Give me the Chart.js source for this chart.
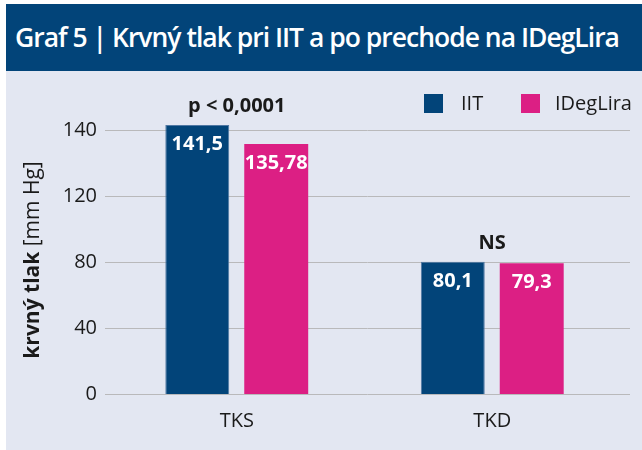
<!DOCTYPE html>
<html>
<head>
<meta charset="utf-8">
<script src="https://cdn.jsdelivr.net/npm/chart.js@4.4.1/dist/chart.umd.min.js"></script>
<style>
  body { margin: 0; background: #fff; }
  #wrap { position: relative; width: 642px; height: 450px; overflow: hidden; }
  #head {
    position: absolute; left: 6px; top: 4px; width: 636px; height: 67px;
    background: #024479; color: #fff;
    font: 600 26.5px "Open Sans", sans-serif; line-height: 66px;
    padding-left: 9px; box-sizing: border-box; white-space: nowrap; letter-spacing: -1px;
  }
  #panel { position: absolute; left: 6px; top: 71px; width: 636px; height: 379px; background: #e3e7f2; }
</style>
</head>
<body>
<div id="wrap">
  <div id="head">Graf 5 | Krvný tlak pri IIT a po prechode na IDegLira</div>
  <div id="panel"><canvas id="chart" width="636" height="379"></canvas></div>
</div>
<script>
const categories = ['TKS', 'TKD'];
const iitValues = [141.5, 80.1];
const idegValues = [135.78, 79.3];
const valueLabels = [['141,5', '80,1'], ['135,78', '79,3']];
const significance = ['p < 0,0001', 'NS'];
const yTicks = [0, 40, 80, 120, 140];
const FONT = '"Open Sans", sans-serif';

// axis in the source is spaced evenly per tick (top step is 20, not 40)
class SegmentScale extends Chart.LinearScale {
    getPixelForValue(value) {
        const n = yTicks.length - 1;
        let i = 0;
        while (i < n - 1 && value > yTicks[i + 1]) i++;
        const f = (i + (value - yTicks[i]) / (yTicks[i + 1] - yTicks[i])) / n;
        return this.getPixelForDecimal(f);
    }
    getValueForPixel(pixel) {
        const d = this.getDecimalForPixel(pixel) * (yTicks.length - 1);
        const i = Math.max(0, Math.min(Math.floor(d), yTicks.length - 2));
        return yTicks[i] + (d - i) * (yTicks[i + 1] - yTicks[i]);
    }
}
SegmentScale.id = 'segment';
SegmentScale.defaults = Chart.LinearScale.defaults;
Chart.register(SegmentScale);

const extras = {
    id: 'extras',
    beforeDatasetsDraw(chart) {
        const { ctx, chartArea, scales } = chart;
        ctx.save();
        ctx.strokeStyle = '#b9b9bb';
        ctx.lineWidth = 1;
        yTicks.forEach(v => {
            const y = Math.round(scales.y.getPixelForValue(v)) + 0.5;
            ctx.beginPath();
            ctx.moveTo(chartArea.left - 4, y);
            ctx.lineTo(chartArea.right + 10, y);
            ctx.stroke();
        });
        ctx.restore();
    },
    afterDatasetsDraw(chart) {
        const { ctx, scales } = chart;
        ctx.save();
        ctx.textAlign = 'center';
        ctx.textBaseline = 'middle';
        // values inside bars
        ctx.fillStyle = '#fff';
        ctx.font = 'bold 20px ' + FONT;
        chart.data.datasets.forEach((ds, di) => {
            chart.getDatasetMeta(di).data.forEach((bar, i) => {
                ctx.fillText(valueLabels[di][i], bar.x, bar.y + 19);
            });
        });
        // significance over each group
        ctx.fillStyle = '#1a1a1a';
        categories.forEach((c, i) => {
            const top = Math.min(...chart.data.datasets.map((ds, di) => chart.getDatasetMeta(di).data[i].y));
            ctx.fillText(significance[i], scales.x.getPixelForValue(i), top - 19);
        });
        // y axis title, mixed weight
        ctx.translate(27, 189);
        ctx.rotate(-Math.PI / 2);
        ctx.textAlign = 'left';
        const part1 = 'krvný tlak';
        const part2 = ' [mm Hg]';
        ctx.font = 'bold 21px ' + FONT;
        const w1 = ctx.measureText(part1).width;
        ctx.font = '21px ' + FONT;
        const w2 = ctx.measureText(part2).width;
        const start = -(w1 + w2) / 2;
        ctx.font = 'bold 21px ' + FONT;
        ctx.fillText(part1, start, 0);
        ctx.font = '21px ' + FONT;
        ctx.fillText(part2, start + w1, 0);
        ctx.restore();
        // legend
        ctx.save();
        ctx.font = '20px ' + FONT;
        ctx.textBaseline = 'middle';
        const legendX = [418, 515];
        const textGap = [37, 34];
        chart.data.datasets.forEach((ds, di) => {
            ctx.fillStyle = ds.backgroundColor;
            ctx.fillRect(legendX[di], 23, 19, 19);
            ctx.fillStyle = '#1a1a1a';
            ctx.fillText(ds.label, legendX[di] + textGap[di], 33);
        });
        ctx.restore();
    }
};

new Chart(document.getElementById('chart'), {
    type: 'bar',
    data: {
        labels: categories,
        datasets: [
            { label: 'IIT', data: iitValues, backgroundColor: '#024479', borderColor: '#4f77a3', borderWidth: 1, clip: false },
            { label: 'IDegLira', data: idegValues, backgroundColor: '#dc1f84', borderColor: '#dc1f84', borderWidth: 0, clip: false }
        ]
    },
    options: {
        responsive: false,
        animation: false,
        events: [],
        layout: { padding: { left: 0, right: 22, top: 59, bottom: 0 } },
        datasets: { bar: { categoryPercentage: 0.618, barPercentage: 0.81 } },
        plugins: { legend: { display: false }, tooltip: { enabled: false } },
        scales: {
            x: {
                grid: { display: false, drawTicks: false },
                border: { display: false },
                ticks: { color: '#1a1a1a', font: { family: FONT, size: 20 }, padding: 15 },
                afterFit: s => { s.height = 56; }
            },
            y: {
                type: 'segment',
                min: 0,
                max: 140,
                grid: { display: false, drawTicks: false },
                border: { display: false },
                ticks: { color: '#1a1a1a', font: { family: FONT, size: 20 }, padding: 12 },
                afterBuildTicks: s => { s.ticks = yTicks.map(v => ({ value: v })); },
                afterFit: s => { s.width = 103; }
            }
        }
    },
    plugins: [extras]
});
</script>
</body>
</html>
